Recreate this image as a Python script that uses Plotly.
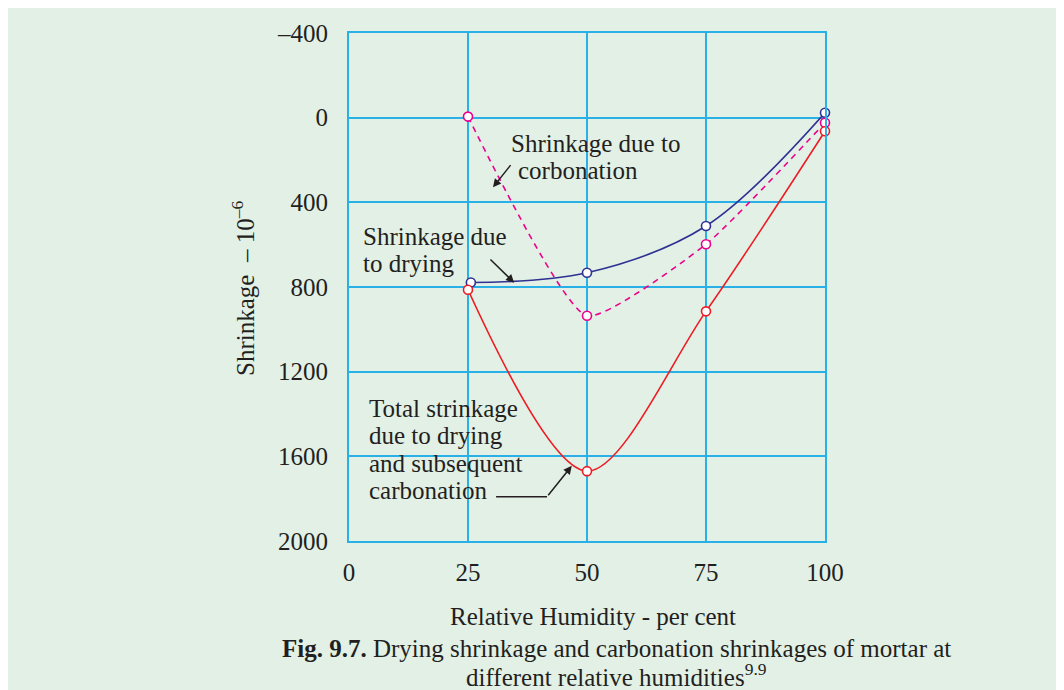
import plotly.graph_objects as go

humedad = [25, 50, 75, 100]
humedad_secado = [25.6, 50, 75, 100]
secado = [779, 733, 512, -23]
carbonatacion = [-5, 936, 598, 24]
total = [813, 1670, 915, 64]

y_ticks = [-400, 0, 400, 800, 1200, 1600, 2000]
y_labels = ["\u2013400", "0", "400", "800", "1200", "1600", "2000"]
x_ticks = [0, 25, 50, 75, 100]

fondo = "#e2f0e6"
rejilla = "#29b0e6"
fuente = "Liberation Serif, Times New Roman, serif"

fig = go.Figure()

def serie(x, y, color, dash="solid", suave=1.0):
    fig.add_trace(go.Scatter(
        x=x, y=y, mode="lines+markers",
        line=dict(color=color, width=1.6, dash=dash, shape="spline", smoothing=suave),
        marker=dict(symbol="circle", size=9, color="white", line=dict(color=color, width=1.6)),
        showlegend=False, cliponaxis=False))

serie(humedad_secado, secado, "#2e3192")
serie(humedad, carbonatacion, "#ec008c", dash="6px,5px", suave=0.5)
serie(humedad, total, "#ed1c24", suave=0.9)

texto = dict(family=fuente, size=25, color="#231f20")

# la pagina tiene un margen de 8px: el area de trazado queda en 349..825 x 31..541 en pantalla
def px(xp, yp):
    return (xp - 349) / 476, (541 - yp) / 510

def etiqueta(xp, yp, t, anchor="left", angle=0, size=25):
    x, y = px(xp, yp)
    fig.add_annotation(x=x, y=y, xref="paper", yref="paper", text=t, showarrow=False,
                       xanchor=anchor, yanchor="middle", font=dict(texto, size=size), textangle=angle)

for t, (xp, yp) in [("Shrinkage due to", (509, 142)), ("corbonation", (516, 169)),
                    ("Shrinkage due", (361, 235)), ("to drying", (361, 262)),
                    ("Total strinkage", (367, 408)), ("due to drying", (367, 435)),
                    ("and subsequent", (367, 463)), ("carbonation", (367, 490))]:
    etiqueta(xp, yp, t)

flecha = dict(showarrow=True, arrowhead=2, arrowsize=1.1, arrowwidth=1.5, arrowcolor="#231f20",
              axref="x", ayref="y", text="")
fig.add_annotation(x=30.25, y=329, ax=34.2, ay=217, **flecha)
fig.add_annotation(x=34.7, y=780, ax=29.4, ay=663, **flecha)
fig.add_annotation(x=46.8, y=1645, ax=41.6, ay=1791, **flecha)
fig.add_shape(type="line", x0=30.9, y0=1791, x1=41.6, y1=1791, line=dict(color="#231f20", width=1.5))

etiqueta(593, 617, "Relative Humidity - per cent", anchor="center")
etiqueta(616, 649, "<b>Fig. 9.7.</b> Drying shrinkage and carbonation shrinkages of mortar at", anchor="center")
etiqueta(616, 676, "different relative humidities<sup>9.9</sup>", anchor="center")
etiqueta(243, 288, "Shrinkage  \u2013 10<sup>\u20136</sup>", anchor="center", angle=-90)

fig.update_xaxes(range=[0, 100], tickvals=x_ticks, showgrid=True, gridcolor=rejilla, gridwidth=2,
                 showline=True, linecolor=rejilla, linewidth=2, mirror=True, zeroline=False,
                 ticks="", ticklabelstandoff=8, tickfont=texto)
fig.update_yaxes(range=[2000, -400], tickvals=y_ticks, ticktext=y_labels, showgrid=True,
                 gridcolor=rejilla, gridwidth=2, showline=True, linecolor=rejilla, linewidth=2,
                 mirror=True, zeroline=False, ticks="", ticklabelstandoff=14, tickfont=texto)

fig.update_layout(width=1056, height=682, margin=dict(l=341, r=239, t=23, b=149),
                  paper_bgcolor=fondo, plot_bgcolor=fondo, font=texto)

fig.write_html("out.html")
